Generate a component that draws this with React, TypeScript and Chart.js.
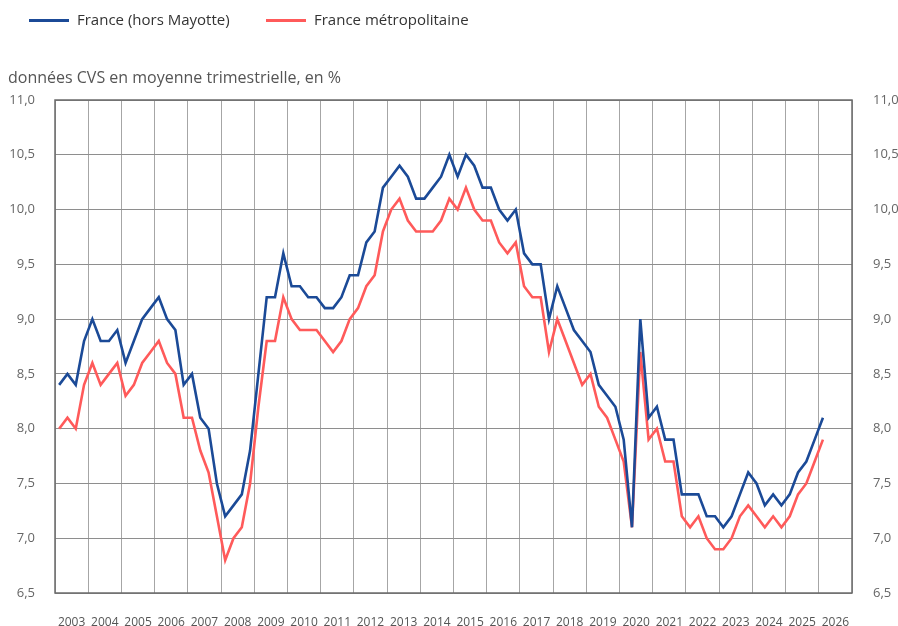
import React, { useEffect, useRef } from "react";
import { Chart, registerables } from "chart.js";

Chart.register(...registerables);

const YEARS = [
  "2003", "2004", "2005", "2006", "2007", "2008", "2009", "2010", "2011", "2012", "2013", "2014",
  "2015", "2016", "2017", "2018", "2019", "2020", "2021", "2022", "2023", "2024", "2025", "2026",
];

const SERIES_NAMES = ["France (hors Mayotte)", "France métropolitaine"];

const FRANCE_HORS_MAYOTTE = [
  8.4, 8.5, 8.4, 8.8,
  9.0, 8.8, 8.8, 8.9,
  8.6, 8.8, 9.0, 9.1,
  9.2, 9.0, 8.9, 8.4,
  8.5, 8.1, 8.0, 7.5,
  7.2, 7.3, 7.4, 7.8,
  8.5, 9.2, 9.2, 9.6,
  9.3, 9.3, 9.2, 9.2,
  9.1, 9.1, 9.2, 9.4,
  9.4, 9.7, 9.8, 10.2,
  10.3, 10.4, 10.3, 10.1,
  10.1, 10.2, 10.3, 10.5,
  10.3, 10.5, 10.4, 10.2,
  10.2, 10.0, 9.9, 10.0,
  9.6, 9.5, 9.5, 9.0,
  9.3, 9.1, 8.9, 8.8,
  8.7, 8.4, 8.3, 8.2,
  7.9, 7.1, 9.0, 8.1,
  8.2, 7.9, 7.9, 7.4,
  7.4, 7.4, 7.2, 7.2,
  7.1, 7.2, 7.4, 7.6,
  7.5, 7.3, 7.4, 7.3,
  7.4, 7.6, 7.7, 7.9,
  8.1,
];

const FRANCE_METROPOLITAINE = [
  8.0, 8.1, 8.0, 8.4,
  8.6, 8.4, 8.5, 8.6,
  8.3, 8.4, 8.6, 8.7,
  8.8, 8.6, 8.5, 8.1,
  8.1, 7.8, 7.6, 7.2,
  6.8, 7.0, 7.1, 7.5,
  8.2, 8.8, 8.8, 9.2,
  9.0, 8.9, 8.9, 8.9,
  8.8, 8.7, 8.8, 9.0,
  9.1, 9.3, 9.4, 9.8,
  10.0, 10.1, 9.9, 9.8,
  9.8, 9.8, 9.9, 10.1,
  10.0, 10.2, 10.0, 9.9,
  9.9, 9.7, 9.6, 9.7,
  9.3, 9.2, 9.2, 8.7,
  9.0, 8.8, 8.6, 8.4,
  8.5, 8.2, 8.1, 7.9,
  7.7, 7.1, 8.7, 7.9,
  8.0, 7.7, 7.7, 7.2,
  7.1, 7.2, 7.0, 6.9,
  6.9, 7.0, 7.2, 7.3,
  7.2, 7.1, 7.2, 7.1,
  7.2, 7.4, 7.5, 7.7,
  7.9,
];

const SUBTITLE = "données CVS en moyenne trimestrielle, en %";
const Y_MIN = 6.5;
const Y_MAX = 11;
const Y_STEP = 0.5;

const BLUE = "#1b4a97";
const RED = "#ff5a5a";
const FONT = "'Open Sans', 'Noto Sans', sans-serif";

const toPoints = (vals: number[]) => vals.map((v, i) => ({ x: i + 0.5, y: v }));
const fmt = (v: number) => Number(v).toFixed(1).replace(".", ",");

const decorPlugin = {
  id: "decor",
  afterDraw(chart: any) {
    const { ctx, chartArea } = chart;
    ctx.save();
    ctx.strokeStyle = "#6b6b6b";
    ctx.lineWidth = 1.5;
    ctx.strokeRect(chartArea.left, chartArea.top, chartArea.right - chartArea.left, chartArea.bottom - chartArea.top);
    const items = [
      { x: 29, color: BLUE, label: SERIES_NAMES[0] },
      { x: 266, color: RED, label: SERIES_NAMES[1] },
    ];
    ctx.font = `15px ${FONT}`;
    ctx.textBaseline = "middle";
    ctx.textAlign = "left";
    items.forEach((it) => {
      ctx.strokeStyle = it.color;
      ctx.lineWidth = 3;
      ctx.beginPath();
      ctx.moveTo(it.x, 20.5);
      ctx.lineTo(it.x + 40, 20.5);
      ctx.stroke();
      ctx.fillStyle = "#333333";
      ctx.fillText(it.label, it.x + 48, 21);
    });
    ctx.font = `16px ${FONT}`;
    ctx.fillStyle = "#555555";
    ctx.fillText(SUBTITLE, 8, 78);
    ctx.restore();
  },
};

export default function App() {
  const canvasRef = useRef<HTMLCanvasElement | null>(null);

  useEffect(() => {
    if (!canvasRef.current) return;
    const nQuarters = YEARS.length * 4;
    const chart = new Chart(canvasRef.current, {
      type: "line",
      data: {
        datasets: [
          {
            label: SERIES_NAMES[0],
            data: toPoints(FRANCE_HORS_MAYOTTE),
            borderColor: BLUE,
            backgroundColor: BLUE,
            borderWidth: 2.6,
            pointRadius: 0,
            tension: 0,
          },
          {
            label: SERIES_NAMES[1],
            data: toPoints(FRANCE_METROPOLITAINE),
            borderColor: RED,
            backgroundColor: RED,
            borderWidth: 2.6,
            pointRadius: 0,
            tension: 0,
          },
        ],
      },
      options: {
        responsive: false,
        animation: false,
        layout: { padding: { top: 100, left: 0, right: 0, bottom: 0 } },
        plugins: {
          legend: { display: false },
          title: { display: false },
          tooltip: { enabled: false },
        },
        scales: {
          x: {
            type: "linear",
            min: 0,
            max: nQuarters,
            afterBuildTicks: (scale: any) => {
              const t = [];
              for (let v = 0; v <= nQuarters; v += 2) t.push({ value: v });
              scale.ticks = t;
            },
            afterFit: (scale: any) => {
              scale.height = 33;
            },
            grid: {
              drawTicks: false,
              color: (ctx: any) => (ctx.tick && ctx.tick.value % 4 === 0 ? "#a6a6a6" : "rgba(0,0,0,0)"),
              lineWidth: 1,
            },
            border: { display: false },
            ticks: {
              autoSkip: false,
              maxRotation: 0,
              padding: 22,
              color: "#555555",
              font: { family: FONT, size: 12 },
              callback: (v: any) => {
                const n = Number(v);
                if (n % 4 === 2) return YEARS[(n - 2) / 4];
                return "";
              },
            },
          },
          y: {
            type: "linear",
            position: "left",
            min: Y_MIN,
            max: Y_MAX,
            afterFit: (scale: any) => {
              scale.width = 55;
            },
            grid: { drawTicks: false, color: "#8e8e8e", lineWidth: 1 },
            border: { display: false },
            ticks: {
              stepSize: Y_STEP,
              padding: 20,
              color: "#666666",
              font: { family: FONT, size: 13 },
              callback: (v: any) => fmt(v),
            },
          },
          y2: {
            type: "linear",
            position: "right",
            min: Y_MIN,
            max: Y_MAX,
            afterFit: (scale: any) => {
              scale.width = 46;
            },
            grid: { drawOnChartArea: false, drawTicks: false },
            border: { display: false },
            ticks: {
              stepSize: Y_STEP,
              padding: 21,
              color: "#666666",
              font: { family: FONT, size: 13 },
              callback: (v: any) => fmt(v),
            },
          },
        },
      },
      plugins: [decorPlugin],
    } as any);
    return () => chart.destroy();
  }, []);

  return (
    <div style={{ position: "absolute", left: 0, top: 0, width: 898, height: 626, background: "#ffffff" }}>
      <canvas ref={canvasRef} width={898} height={626} />
    </div>
  );
}
